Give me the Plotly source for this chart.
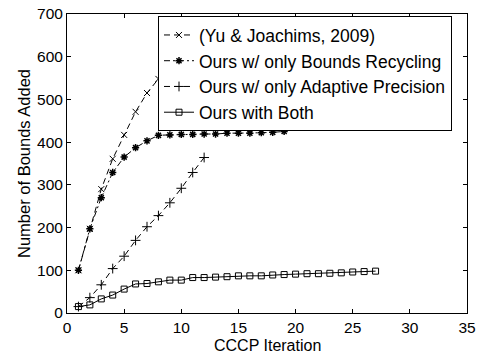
import plotly.graph_objects as go

# Data
yu_x = [1, 2, 3, 4, 5, 6, 7, 8, 9]
yu_y = [100, 197, 290, 361, 417, 471, 515, 548, 578]

br_x = [1, 2, 3, 4, 5, 6, 7, 8, 9, 10, 11, 12, 13, 14, 15, 16, 17, 18, 19]
br_y = [100, 197, 270, 329, 365, 387, 403, 416, 417, 418, 418, 419, 419, 421, 421, 421, 422, 423, 425]

ap_x = [1, 2, 3, 4, 5, 6, 7, 8, 9, 10, 11, 12]
ap_y = [15, 36, 66, 104, 133, 170, 202, 228, 258, 292, 329, 364]

both_x = list(range(1, 28))
both_y = [15, 19, 33, 42, 56, 68, 69, 73, 77, 77, 83, 83, 84, 85, 87, 87, 87, 89, 90,
          91, 92, 92, 93, 94, 96, 97, 98]

names = ["(Yu & Joachims, 2009)", "Ours w/ only Bounds Recycling",
         "Ours w/ only Adaptive Precision", "Ours with Both"]

x_ticks = [0, 5, 10, 15, 20, 25, 30, 35]
y_ticks = [0, 100, 200, 300, 400, 500, 600, 700]

x_title = "CCCP Iteration"
y_title = "Number of Bounds Added"

FONT = "Liberation Sans, Arial, sans-serif"

fig = go.Figure()
fig.add_trace(go.Scatter(x=yu_x, y=yu_y, name=names[0], mode="lines+markers",
                         line=dict(color="black", width=1, dash="6px,4px"),
                         marker=dict(symbol="x-thin-open", size=6, color="black",
                                     line=dict(color="black", width=1))))
fig.add_trace(go.Scatter(x=br_x, y=br_y, name=names[1], mode="lines+markers",
                         line=dict(color="black", width=1, dash="6px,3px,2px,3px"),
                         marker=dict(symbol="asterisk-open", size=6, color="black",
                                     line=dict(color="black", width=1.5))))
fig.add_trace(go.Scatter(x=ap_x, y=ap_y, name=names[2], mode="lines+markers",
                         line=dict(color="black", width=1, dash="6px,4px"),
                         marker=dict(symbol="cross-thin-open", size=7, color="black",
                                     line=dict(color="black", width=1))))
fig.add_trace(go.Scatter(x=both_x, y=both_y, name=names[3], mode="lines+markers",
                         line=dict(color="black", width=1),
                         marker=dict(symbol="square-open", size=6, color="black",
                                     line=dict(color="black", width=1))))

axis_common = dict(showline=True, linecolor="black", linewidth=1, mirror="ticks",
                   ticks="inside", ticklen=4, tickcolor="black", showgrid=False,
                   zeroline=False, automargin=False,
                   tickfont=dict(size=15.5, color="black", family=FONT))

fig.update_layout(
    width=480, height=354,
    margin=dict(l=67, r=13, t=14, b=41),
    paper_bgcolor="white", plot_bgcolor="white",
    font=dict(family=FONT, color="black", size=16),
    showlegend=True,
    legend=dict(x=0.2275, y=0.993, xanchor="left", yanchor="top",
                bgcolor="white", bordercolor="black", borderwidth=1,
                font=dict(size=17.5, family=FONT, color="black"),
                tracegroupgap=0, itemwidth=30),
    xaxis=dict(range=[0, 35], tickvals=x_ticks, **axis_common),
    yaxis=dict(range=[0, 700], tickvals=y_ticks,
               title=dict(text=y_title, standoff=2, font=dict(size=16.5)),
               **axis_common),
    annotations=[dict(text=x_title, xref="paper", yref="paper", x=0.5, y=-0.109,
                      xanchor="center", yanchor="middle", showarrow=False,
                      font=dict(size=16, family=FONT, color="black"))],
)

fig.write_html("out.html")
